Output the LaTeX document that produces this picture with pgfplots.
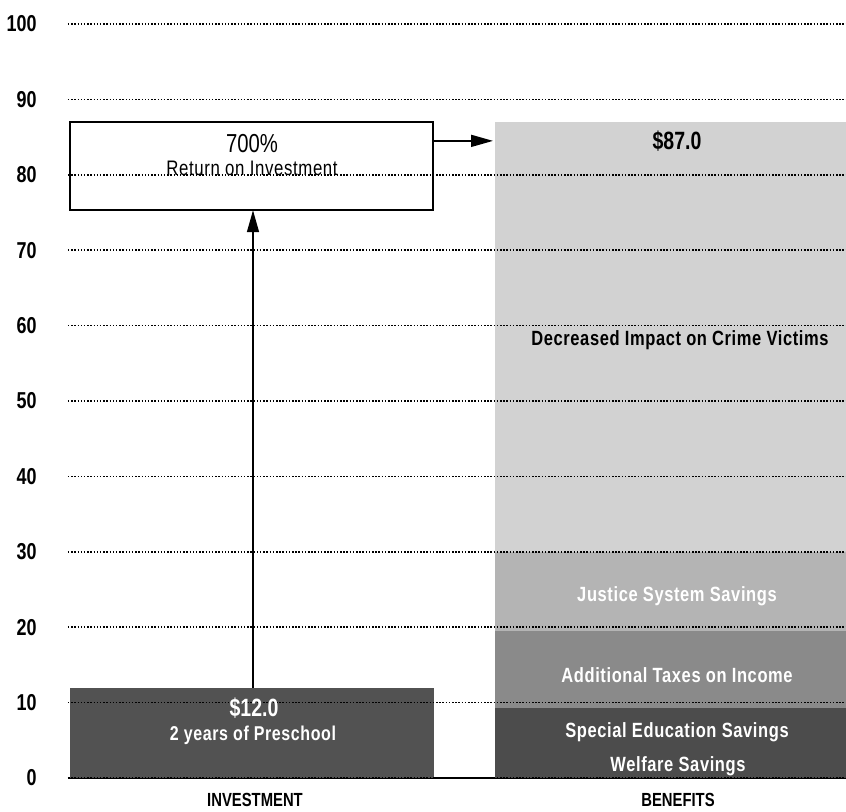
\documentclass[border=0pt]{standalone}
\usepackage{pgfplots}
\pgfplotsset{compat=1.18}
\usepackage{fontspec}
\setmainfont{Liberation Sans}[FakeStretch=0.78]
\newfontfamily\lab{Liberation Sans}[FakeStretch=0.8, LetterSpace=3]
\usetikzlibrary{arrows.meta}

\definecolor{invest}{HTML}{525252}
\definecolor{welfare}{HTML}{4C4C4C}
\definecolor{taxes}{HTML}{8A8A8A}
\definecolor{justice}{HTML}{B4B4B4}
\definecolor{crime}{HTML}{D2D2D2}

\begin{document}
\begin{tikzpicture}
% page size = reference proportions (1px = 0.5pt)
\path[use as bounding box] (-34pt,-16.5pt) rectangle (389pt,389pt);
\begin{axis}[
    at={(0,0)}, anchor=south west,
    scale only axis, width=389pt, height=377pt,
    xmin=68, xmax=846, ymin=0, ymax=100,
    ybar stacked,
    axis line style={draw=none},
    axis on top,
    clip=false,
    ytick={0,10,...,100},
    ymajorgrids,
    major grid style={black, line width=0.75pt, dash pattern=on 0.75pt off 0.85pt},
    xtick={255,678},
    xticklabels={INVESTMENT,BENEFITS},
    major tick length=0pt,
    /pgf/number format/assume math mode=true,
    yticklabel style={anchor=east, inner sep=0pt, xshift=-15.5pt,
        font=\bfseries\fontsize{11.5}{13}\selectfont},
    xticklabel style={anchor=north, inner sep=0pt, yshift=-7.5pt,
        font=\bfseries\fontsize{9.5}{11}\selectfont},
]
% investment
\addplot[fill=invest, draw=none, bar width=364] coordinates {(252,12) (670.5,0)};
% benefits, stacked
\addplot[fill=welfare, draw=none, bar width=351] coordinates {(252,0) (670.5,3.0)};  % welfare
\addplot[fill=welfare, draw=none, bar width=351] coordinates {(252,0) (670.5,6.3)};  % special education
\addplot[fill=taxes, draw=none, bar width=351] coordinates {(252,0) (670.5,10.2)};   % taxes on income
\addplot[fill=justice, draw=none, bar width=351] coordinates {(252,0) (670.5,10.5)}; % justice system
\addplot[fill=crime, draw=none, bar width=351] coordinates {(252,0) (670.5,57.0)};   % crime victims

\draw[line width=1.3pt] (axis cs:68,0) -- (axis cs:846,0);

% return box and arrows
\draw[line width=1pt, fill=white] (axis cs:70,75.3) rectangle (axis cs:433,87);
\draw[line width=0.8pt, -{Triangle[length=11pt,width=6pt]}] (axis cs:253,12) -- (axis cs:253,75.3);
\draw[line width=0.8pt, -{Triangle[length=11pt,width=6pt]}] (axis cs:433,84.5) -- (axis cs:493,84.5);

\coordinate (pct) at (axis cs:252,84.2);
\coordinate (roi) at (axis cs:252,80.9);
\coordinate (inv) at (axis cs:254,9.2);
\coordinate (pre) at (axis cs:253,5.7);
\coordinate (tot) at (axis cs:677,84.4);
\coordinate (cri) at (axis cs:680,58.1);
\coordinate (jus) at (axis cs:677,24.1);
\coordinate (tax) at (axis cs:677,13.7);
\coordinate (spe) at (axis cs:677,6.1);
\coordinate (wel) at (axis cs:678,1.6);
\end{axis}

\node[font=\fontsize{13}{15}\selectfont] at (pct) {700\%};
\node[font=\lab\fontsize{10.5}{12}\selectfont] at (roi) {Return on Investment};
\node[text=white, font=\bfseries\fontsize{12.5}{14}\selectfont] at (inv) {\$12.0};
\node[text=white, font=\lab\bfseries\fontsize{10}{12}\selectfont] at (pre) {2 years of Preschool};
\node[font=\bfseries\fontsize{12.5}{14}\selectfont] at (tot) {\$87.0};
\node[font=\lab\bfseries\fontsize{10.3}{12}\selectfont] at (cri) {Decreased Impact on Crime Victims};
\node[text=white, font=\lab\bfseries\fontsize{10.3}{12}\selectfont] at (jus) {Justice System Savings};
\node[text=white, font=\lab\bfseries\fontsize{10.3}{12}\selectfont] at (tax) {Additional Taxes on Income};
\node[text=white, font=\lab\bfseries\fontsize{10.3}{12}\selectfont] at (spe) {Special Education Savings};
\node[text=white, font=\lab\bfseries\fontsize{10.3}{12}\selectfont] at (wel) {Welfare Savings};
\end{tikzpicture}
\end{document}
